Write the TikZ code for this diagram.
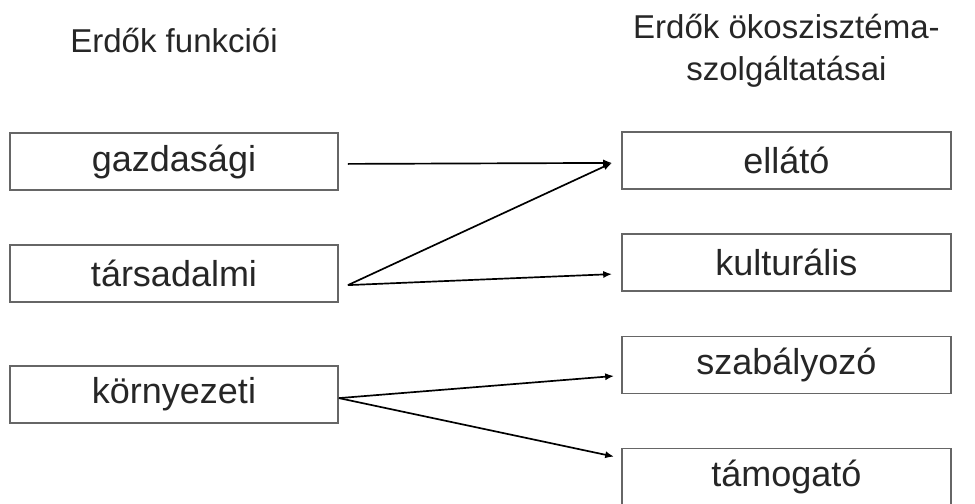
\documentclass[tikz,border=0pt]{standalone}
\usepackage{fontspec}
\setmainfont{Liberation Sans}
\usetikzlibrary{arrows.meta}
\begin{document}
\begin{tikzpicture}[
    fn/.style  = {draw=black!60, line width=1.3pt, minimum width=8.2cm,
                  minimum height=1.425cm, inner sep=0pt, text=black!85,
                  font=\fontsize{25.6pt}{30pt}\selectfont},
    svc/.style = {fn, minimum width=8.225cm},
    ttl/.style = {align=center, text=black!85,
                  font=\fontsize{23.5pt}{29.9pt}\selectfont},
    arr/.style = {-{Latex[length=0.22cm,width=0.18cm]}, line width=1.2pt},
  ]
    \useasboundingbox (0,0) rectangle (24.375,-12.575);

    \node[ttl] (left)  at (4.35,-1.0)     {Erdők funkciói};
    \node[ttl] (right) at (19.66,-1.275)  {Erdők ökoszisztéma-\\szolgáltatásai};

    \node[fn] (gazd)  at (4.35,-4.0375)   {gazdasági};
    \node[fn] (tars)  at (4.35,-6.8375)   {társadalmi};
    \node[fn] (korny) at (4.35,-9.8625)   {környezeti};

    \node[svc] (ellato) at (19.66,-4.0125) {ellátó};
    \node[svc] (kult)   at (19.66,-6.5625) {kulturális};
    \node[svc] (szab)   at (19.66,-9.125)  {szabályozó};
    \node[svc] (tamog)  at (19.66,-11.925) {támogató};

    \draw[arr] ([shift={(0.225,-0.06)}]gazd.east)  -- ([shift={(-0.225,-0.06)}]ellato.west);
    \draw[arr] ([shift={(0.225,-0.29)}]tars.east)  -- ([shift={(-0.225,-0.06)}]ellato.west);
    \draw[arr] ([shift={(0.225,-0.29)}]tars.east)  -- ([shift={(-0.225,-0.29)}]kult.west);
    \draw[arr] ([shift={(0,-0.09)}]korny.east)     -- ([shift={(-0.175,-0.275)}]szab.west);
    \draw[arr] ([shift={(0,-0.09)}]korny.east)     -- ([shift={(-0.175,-0.225)}]tamog.north west);
  \end{tikzpicture}
\end{document}
